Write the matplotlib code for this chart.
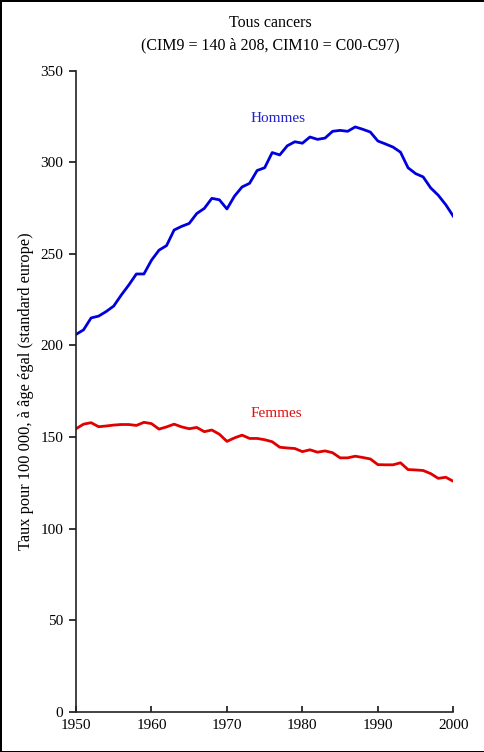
import numpy as np
import matplotlib
matplotlib.use('Agg')
import matplotlib.pyplot as plt

plt.rcParams['font.family'] = ['Liberation Serif', 'DejaVu Serif']

# données
annees = list(range(1950, 2001))
hommes = [206, 208.5, 215, 216, 218.5, 221.5, 227.5, 233, 239, 239,
          246.5, 252, 254.5, 263, 265, 266.6, 272, 274.8, 280.3, 279.5,
          274.5, 281.5, 286.5, 288.5, 295.5, 297, 305.3, 304, 309, 311.2,
          310.4, 313.8, 312.5, 313.2, 316.9, 317.4, 316.9, 319.3, 318, 316.5,
          311.6, 310, 308.3, 305.5, 297, 293.8, 292, 286, 282, 276.8,
          270.5]
femmes = [154.5, 157, 157.8, 155.6, 156, 156.5, 156.8, 156.8, 156.3, 158,
          157.3, 154.3, 155.5, 157, 155.5, 154.5, 155.2, 152.9, 153.8, 151.5,
          147.6, 149.5, 151, 149.2, 149.2, 148.5, 147.4, 144.4, 144, 143.7,
          142, 143, 141.7, 142.4, 141.4, 138.6, 138.6, 139.5, 138.8, 138,
          134.9, 134.8, 134.8, 135.9, 132.2, 132, 131.7, 130, 127.4, 128,
          125.8]

fig = plt.figure(figsize=(4.85, 7.52), dpi=100)
fig.patch.set_edgecolor('black')
fig.patch.set_linewidth(2)
ax = fig.add_axes([0.1567, 0.0536, 0.778, 0.8524])

ax.plot(annees, hommes, color='#0000DD', lw=2.0, solid_joinstyle='round')
ax.plot(annees, femmes, color='#E00000', lw=2.0, solid_joinstyle='round')

ax.text(1976.8, 324, 'Hommes', color='#2222CC', fontsize=11, ha='center', va='center')
ax.text(1976.5, 163, 'Femmes', color='#DD1111', fontsize=11, ha='center', va='center')

ax.set_xlim(1950, 2000)
ax.set_ylim(0, 350)
ax.set_xticks(np.arange(1950, 2001, 10))
ax.set_yticks(np.arange(0, 351, 50))
ax.spines['top'].set_visible(False)
ax.spines['right'].set_visible(False)
for s in ['left', 'bottom']:
    ax.spines[s].set_color('#222222')
    ax.spines[s].set_linewidth(1.2)
ax.tick_params(axis='y', direction='out', length=5, width=1.1, labelsize=11, pad=4)
ax.tick_params(axis='x', direction='in', length=4, width=1.1, labelsize=11, pad=5)
ax.set_ylabel('Taux pour 100 000, à âge égal (standard europe)', fontsize=11.8, labelpad=5)

fig.text(0.557, 0.97, 'Tous cancers', ha='center', va='center', fontsize=11.5)
fig.text(0.557, 0.94, '(CIM9 = 140 à 208, CIM10 = C00-C97)', ha='center', va='center', fontsize=11.5)

plt.savefig('out.png', dpi=100, edgecolor=fig.get_edgecolor())
